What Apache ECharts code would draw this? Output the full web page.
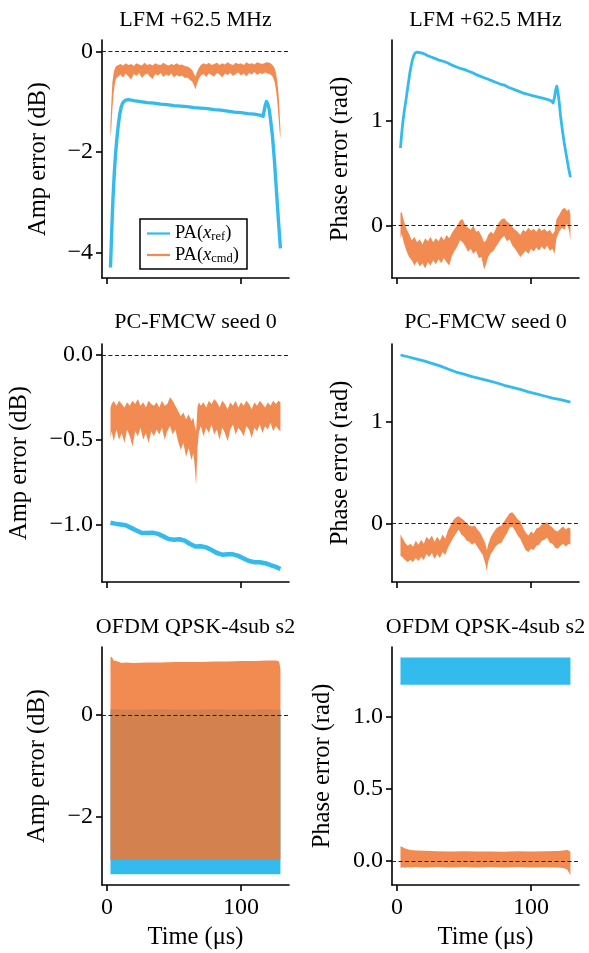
<!DOCTYPE html>
<html><head><meta charset="utf-8">
<script src="https://cdn.jsdelivr.net/npm/echarts@6/dist/echarts.min.js"></script>
<style>html,body{margin:0;padding:0;background:#fff}#c{width:589px;height:953px}</style>
</head><body><div id="c"></div>
<script>
// ---------------- DATA ----------------
const panelTitles = ['LFM +62.5 MHz','LFM +62.5 MHz','PC-FMCW seed 0','PC-FMCW seed 0','OFDM QPSK-4sub s2','OFDM QPSK-4sub s2'];
const seriesNames = ['PA(x_ref)','PA(x_cmd)'];
const xTicks = [0, 100];

// LFM amplitude, reference (blue line)
const lfmAmpRefT = [2.6,3.5,4.5,5.5,6.5,7.5,8.5,9.5,10.5,11.5,12.5,14,16,20,25,30,35,40,45,50,55,60,65,70,75,80,85,90,95,100,105,110,114,116.5,117,118,119,120,121,122,123.5,125,126.5,128,129.4];
const lfmAmpRefY = [-4.3,-3.6,-2.9,-2.4,-2.0,-1.7,-1.45,-1.25,-1.12,-1.04,-1.0,-0.97,-0.96,-0.98,-1.0,-1.02,-1.03,-1.05,-1.06,-1.08,-1.09,-1.1,-1.12,-1.13,-1.14,-1.16,-1.17,-1.19,-1.21,-1.22,-1.24,-1.25,-1.27,-1.29,-1.22,-1.08,-1.0,-1.05,-1.15,-1.35,-1.7,-2.2,-2.8,-3.4,-3.92];
// LFM amplitude, command (orange, dense noisy trace: upper / lower envelope)
const lfmAmpCmdT = [2.6,3.2,4,5,6,7,8.5,10,12,14,16,18,20,22,24,26,28,30,32,34,36,38,40,42,44,46,48,50,52,54,56,58,60,62,63.5,65,66,67,68.5,70,72,74,76,78,80,82,84,86,88,90,92,94,96,98,100,102,104,106,108,110,112,114,116,118,120,122,123.5,125,126,127,128,128.8,129.4];
const lfmAmpCmdHi = [-1.45,-1.05,-0.62,-0.42,-0.33,-0.29,-0.27,-0.25,-0.28,-0.24,-0.27,-0.25,-0.29,-0.24,-0.26,-0.28,-0.23,-0.27,-0.25,-0.28,-0.24,-0.26,-0.27,-0.23,-0.26,-0.28,-0.25,-0.27,-0.24,-0.27,-0.26,-0.29,-0.3,-0.33,-0.37,-0.45,-0.5,-0.42,-0.33,-0.27,-0.24,-0.26,-0.23,-0.27,-0.25,-0.23,-0.27,-0.24,-0.26,-0.22,-0.25,-0.27,-0.23,-0.25,-0.24,-0.27,-0.22,-0.25,-0.24,-0.26,-0.22,-0.24,-0.25,-0.23,-0.22,-0.24,-0.27,-0.33,-0.42,-0.58,-0.85,-1.2,-1.55];
const lfmAmpCmdLo = [-1.7,-1.55,-1.15,-0.82,-0.62,-0.53,-0.5,-0.46,-0.52,-0.44,-0.5,-0.56,-0.45,-0.49,-0.43,-0.53,-0.47,-0.44,-0.5,-0.55,-0.45,-0.48,-0.43,-0.51,-0.46,-0.49,-0.44,-0.52,-0.47,-0.5,-0.48,-0.53,-0.52,-0.57,-0.6,-0.68,-0.76,-0.66,-0.55,-0.48,-0.45,-0.51,-0.44,-0.47,-0.5,-0.43,-0.46,-0.52,-0.44,-0.47,-0.43,-0.49,-0.45,-0.42,-0.48,-0.44,-0.5,-0.43,-0.46,-0.41,-0.47,-0.43,-0.45,-0.42,-0.44,-0.46,-0.5,-0.6,-0.75,-0.98,-1.3,-1.6,-1.75];

// LFM phase, reference
const lfmPhRefT = [2.6,3.5,4.5,5.5,6.5,7.5,8.5,9.5,10.5,11.5,12.5,13.5,15,17,20,23,26,29,32,35,38,41,44,47,50,53,56,59,62,65,68,71,74,77,80,83,86,89,92,95,98,101,104,107,110,113,115,116.5,117.5,118.5,119.2,120,121,122,123.5,125,126.5,128,129.4];
const lfmPhRefY = [0.74,0.88,1.0,1.1,1.18,1.27,1.36,1.45,1.52,1.58,1.62,1.645,1.655,1.65,1.64,1.62,1.605,1.59,1.575,1.565,1.55,1.53,1.515,1.5,1.49,1.475,1.46,1.44,1.425,1.41,1.395,1.38,1.365,1.35,1.34,1.32,1.305,1.29,1.275,1.26,1.25,1.24,1.23,1.22,1.21,1.2,1.19,1.17,1.22,1.3,1.33,1.28,1.18,1.05,0.9,0.77,0.66,0.55,0.46];
// LFM phase, command
const lfmPhCmdT = [2.6,3.5,5,7,9,11,13,15,17,19,21,23,25,27,29,31,33,35,37,39,41,43,45,47,49,51,53,55,57,59,61,63,65,66.5,68,70,72,74,76,78,80,82,84,86,88,90,92,94,96,98,100,102,104,106,108,110,112,114,116,117.5,119,121,123,125,127,128.5,129.4];
const lfmPhCmdHi = [0.12,0.13,0.05,-0.03,-0.08,-0.14,-0.11,-0.16,-0.13,-0.18,-0.12,-0.15,-0.11,-0.16,-0.12,-0.15,-0.1,-0.14,-0.09,-0.12,-0.07,-0.03,0.0,0.05,0.06,0.0,-0.02,-0.04,0.0,-0.06,-0.05,-0.1,-0.16,-0.14,-0.09,-0.06,-0.08,-0.02,0.03,0.06,0.07,0.04,0.02,-0.01,-0.04,-0.06,-0.09,-0.04,-0.06,-0.02,-0.05,-0.03,-0.06,-0.02,-0.05,-0.03,-0.06,-0.04,-0.08,-0.06,0.06,0.1,0.15,0.17,0.14,0.16,0.1];
const lfmPhCmdLo = [-0.12,-0.08,-0.16,-0.24,-0.3,-0.33,-0.38,-0.34,-0.39,-0.36,-0.41,-0.35,-0.38,-0.33,-0.37,-0.32,-0.36,-0.31,-0.35,-0.38,-0.29,-0.24,-0.2,-0.14,-0.16,-0.2,-0.25,-0.22,-0.27,-0.24,-0.31,-0.3,-0.42,-0.37,-0.3,-0.26,-0.24,-0.2,-0.16,-0.12,-0.1,-0.15,-0.13,-0.19,-0.22,-0.26,-0.3,-0.27,-0.24,-0.27,-0.22,-0.25,-0.21,-0.24,-0.2,-0.23,-0.19,-0.24,-0.22,-0.27,-0.12,-0.06,-0.02,-0.04,0.02,-0.06,-0.14];

// PC-FMCW amplitude, reference
const pcAmpRefT = [2.6,6,10,14,18,22,26,30,34,38,42,46,50,54,58,62,66,70,74,78,82,86,90,94,98,102,106,110,114,118,122,126,129.4];
const pcAmpRefY = [-0.99,-0.995,-1.0,-1.005,-1.02,-1.035,-1.05,-1.05,-1.048,-1.055,-1.07,-1.085,-1.09,-1.087,-1.095,-1.115,-1.13,-1.128,-1.135,-1.15,-1.168,-1.178,-1.176,-1.176,-1.185,-1.2,-1.215,-1.222,-1.223,-1.228,-1.24,-1.25,-1.262];
// PC-FMCW amplitude, command
const pcAmpCmdT = [2.6,3.5,5,7,9,11,13,15,17,19,21,23,25,27,29,31,33,35,37,39,41,43,45,47,49,51,53,55,57,59,61,63,64.5,65.5,66.5,67.5,68.5,70,72,74,76,78,80,82,84,86,88,90,92,94,96,98,100,102,104,106,108,110,112,114,116,118,120,122,124,126,128,129.4];
const pcAmpCmdHi = [-0.31,-0.29,-0.27,-0.3,-0.27,-0.29,-0.31,-0.28,-0.3,-0.27,-0.29,-0.26,-0.3,-0.28,-0.31,-0.27,-0.29,-0.3,-0.28,-0.31,-0.27,-0.3,-0.29,-0.25,-0.27,-0.3,-0.33,-0.36,-0.34,-0.38,-0.35,-0.39,-0.37,-0.42,-0.45,-0.31,-0.28,-0.3,-0.28,-0.31,-0.27,-0.29,-0.26,-0.28,-0.31,-0.27,-0.29,-0.32,-0.28,-0.3,-0.27,-0.31,-0.28,-0.3,-0.27,-0.29,-0.32,-0.28,-0.3,-0.27,-0.29,-0.31,-0.28,-0.3,-0.27,-0.29,-0.27,-0.28];
const pcAmpCmdLo = [-0.49,-0.45,-0.51,-0.44,-0.5,-0.46,-0.52,-0.44,-0.48,-0.54,-0.45,-0.48,-0.43,-0.5,-0.46,-0.52,-0.45,-0.48,-0.44,-0.47,-0.43,-0.5,-0.45,-0.42,-0.47,-0.44,-0.51,-0.56,-0.52,-0.6,-0.55,-0.62,-0.58,-0.66,-0.77,-0.55,-0.46,-0.42,-0.48,-0.43,-0.46,-0.41,-0.47,-0.44,-0.5,-0.43,-0.46,-0.51,-0.44,-0.41,-0.47,-0.43,-0.45,-0.48,-0.42,-0.44,-0.49,-0.43,-0.45,-0.41,-0.46,-0.42,-0.44,-0.4,-0.45,-0.42,-0.44,-0.45];

// PC-FMCW phase, reference
const pcPhRefT = [2.6,8,14,20,26,32,38,44,50,56,62,68,74,80,86,92,98,104,110,116,122,129.4];
const pcPhRefY = [1.652,1.635,1.615,1.594,1.57,1.545,1.515,1.485,1.465,1.44,1.42,1.4,1.38,1.355,1.335,1.315,1.29,1.27,1.25,1.23,1.215,1.19];
// PC-FMCW phase, command
const pcPhCmdT = [2.6,4,6,8,10,12,14,16,18,20,22,24,26,28,30,32,34,36,38,40,42,44,46,48,50,52,54,56,58,60,62,64,66,67,68,70,72,74,76,78,80,82,84,86,88,90,92,94,96,98,100,102,104,106,108,110,112,114,116,118,120,122,124,126,128,129.4];
const pcPhCmdHi = [-0.11,-0.14,-0.19,-0.22,-0.2,-0.23,-0.17,-0.21,-0.16,-0.2,-0.13,-0.16,-0.12,-0.18,-0.13,-0.17,-0.11,-0.15,-0.07,-0.02,0.03,0.06,0.07,0.05,0.03,0.0,-0.02,-0.03,-0.02,-0.06,-0.09,-0.14,-0.2,-0.26,-0.21,-0.13,-0.09,-0.05,-0.03,-0.02,0.02,0.06,0.1,0.11,0.08,0.04,0.02,-0.04,-0.09,-0.12,-0.08,-0.1,-0.05,-0.04,-0.01,0.0,0.01,-0.02,-0.04,-0.07,-0.08,-0.05,-0.03,-0.06,-0.04,-0.05];
const pcPhCmdLo = [-0.32,-0.33,-0.36,-0.38,-0.36,-0.38,-0.34,-0.37,-0.33,-0.36,-0.3,-0.33,-0.29,-0.35,-0.3,-0.34,-0.28,-0.31,-0.24,-0.19,-0.14,-0.1,-0.06,-0.11,-0.13,-0.17,-0.18,-0.21,-0.19,-0.23,-0.27,-0.31,-0.4,-0.47,-0.38,-0.3,-0.26,-0.22,-0.2,-0.19,-0.14,-0.1,-0.04,-0.03,-0.07,-0.12,-0.15,-0.21,-0.26,-0.28,-0.25,-0.26,-0.22,-0.21,-0.17,-0.16,-0.14,-0.19,-0.2,-0.24,-0.25,-0.22,-0.2,-0.23,-0.2,-0.21];

// OFDM amplitude (both traces oscillate fast -> envelopes)
const ofAmpRefT = [2.6,20,40,60,80,100,120,129.4];
const ofAmpRefHi = [0.11,0.1,0.11,0.1,0.11,0.1,0.11,0.1];
const ofAmpRefLo = [-3.13,-3.13,-3.13,-3.13,-3.13,-3.13,-3.13,-3.13];
const ofAmpCmdT = [2.6,3.5,5,7,9,11,14,20,30,40,50,60,70,80,90,100,110,120,126,128.5,129.4];
const ofAmpCmdHi = [1.12,1.14,1.07,1.06,1.04,1.02,1.03,1.02,1.03,1.03,1.04,1.04,1.04,1.05,1.05,1.06,1.06,1.07,1.07,1.05,0.9];
const ofAmpCmdLo = [-2.85,-2.85,-2.85,-2.85,-2.85,-2.85,-2.85,-2.85,-2.85,-2.85,-2.85,-2.85,-2.85,-2.85,-2.85,-2.85,-2.85,-2.85,-2.85,-2.85,-2.85];
// OFDM phase
const ofPhRefT = [2.6,20,40,60,80,100,120,129.4];
const ofPhRefHi = [1.41,1.41,1.41,1.41,1.41,1.41,1.41,1.41];
const ofPhRefLo = [1.22,1.22,1.22,1.22,1.22,1.22,1.22,1.22];
const ofPhCmdT = [2.6,4,6,8,10,14,20,30,40,50,60,70,80,90,100,110,120,124,127,128.5,129.4];
const ofPhCmdHi = [0.1,0.095,0.085,0.08,0.075,0.072,0.07,0.066,0.064,0.066,0.064,0.065,0.063,0.066,0.064,0.066,0.068,0.072,0.075,0.07,0.06];
const ofPhCmdLo = [-0.05,-0.045,-0.048,-0.043,-0.046,-0.044,-0.047,-0.044,-0.046,-0.043,-0.047,-0.044,-0.046,-0.043,-0.046,-0.045,-0.047,-0.05,-0.06,-0.085,-0.1];

// y tick values per panel
const yTicks = [[-4,-2,0],[0,1],[-1,-0.5,0],[0,1],[-2,0],[0,0.5,1]];
const yDecimals = [0,0,1,0,0,1];
const yNames = ['Amp error (dB)','Phase error (rad)','Amp error (dB)','Phase error (rad)','Amp error (dB)','Phase error (rad)'];

// ---------------- STYLE / LAYOUT ----------------
const FONT = "'Liberation Serif','Times New Roman','DejaVu Serif',serif";
const BLUE = '#33BBEE';
const ORANGE = 'rgba(238,119,51,0.85)';
const X_MIN = -3.73, X_MAX = 135.8;
const yRange = [[-4.51,0.225],[-0.5,1.77],[-1.339,0.064],[-0.575,1.76],[-3.34,1.333],[-0.168,1.482]];
const gridPos = [[102,40],[392,40],[102,344],[392,344],[102,647],[392,647]];
const GW = 187, GH = 238;
const nameGaps = [51,39,70,39,52,57];
const titleTops = [9,9,311,311,616,616];

const zeroLine = {silent:true, symbol:['none','none'], label:{show:false},
  lineStyle:{color:'#222', width:1, type:[4,2.5]}, data:[{yAxis:0}], z:10, animation:false};

function lineSeries(gi, xs, ys, w){
  return {type:'line', name:seriesNames[0], xAxisIndex:gi, yAxisIndex:gi,
    data:xs.map((x,i)=>[x,ys[i]]), showSymbol:false, symbol:'none',
    lineStyle:{color:BLUE, width:w, join:'round'}, itemStyle:{color:BLUE},
    z:2, silent:true, markLine:zeroLine};
}
function bandSeries(gi, name, xs, hi, lo, color, z, withZero){
  const s = {type:'custom', name:name, xAxisIndex:gi, yAxisIndex:gi, z:z, silent:true,
    data:xs.map((x,i)=>[x, lo[i], hi[i]]), encode:{x:0, y:[1,2]},
    itemStyle:{color:color},
    renderItem:function(params, api){
      if (params.dataIndexInside !== 0) return null;
      const n = params.dataInsideLength || xs.length;
      const top = [], bot = [];
      for (let j=0;j<n;j++){
        top.push(api.coord([api.value(0,j), api.value(2,j)]));
        bot.push(api.coord([api.value(0,j), api.value(1,j)]));
      }
      return {type:'polygon', shape:{points: top.concat(bot.reverse())}, style:{fill:color}};
    }};
  if (withZero) s.markLine = zeroLine;
  return s;
}

const grids = gridPos.map(p=>({left:p[0], top:p[1], width:GW, height:GH, outerBoundsMode:'none', containLabel:false}));
const xAxes = gridPos.map((p,i)=>{
  const bottom = i>=4;
  return {type:'value', gridIndex:i, min:X_MIN, max:X_MAX,
    axisLine:{show:true, onZero:false, lineStyle:{color:'#000', width:1.6}},
    axisTick:{show:true, length:6, lineStyle:{color:'#000', width:1.6}, customValues:xTicks},
    axisLabel:{show:bottom, customValues:xTicks, color:'#000', fontFamily:FONT, fontSize:24, margin:11},
    splitLine:{show:false},
    name: bottom ? 'Time (μs)' : '', nameLocation:'middle', nameGap:40,
    nameTextStyle:{color:'#000', fontFamily:FONT, fontSize:24.5}};
});
const yAxes = gridPos.map((p,i)=>({type:'value', gridIndex:i, min:yRange[i][0], max:yRange[i][1],
  axisLine:{show:true, onZero:false, lineStyle:{color:'#000', width:1.6}},
  axisTick:{show:true, length:6, lineStyle:{color:'#000', width:1.6}, customValues:yTicks[i]},
  axisLabel:{show:true, customValues:yTicks[i], color:'#000', fontFamily:FONT, fontSize:24, margin:9,
    formatter:function(v){ return Number(v).toFixed(yDecimals[i]).replace('-', '\u2212'); }},
  splitLine:{show:false},
  name:yNames[i], nameLocation:'middle', nameGap:nameGaps[i],
  nameTextStyle:{color:'#000', fontFamily:FONT, fontSize:24.5}}));

const titles = gridPos.map((p,i)=>({text:panelTitles[i], left:p[0]+GW/2, top:titleTops[i], textAlign:'center', padding:0,
  textStyle:{color:'#000', fontFamily:FONT, fontSize:22, fontWeight:'normal'}}));

const series = [
  lineSeries(0, lfmAmpRefT, lfmAmpRefY, 3.4),
  bandSeries(0, seriesNames[1], lfmAmpCmdT, lfmAmpCmdHi, lfmAmpCmdLo, ORANGE, 3, false),
  lineSeries(1, lfmPhRefT, lfmPhRefY, 2.8),
  bandSeries(1, seriesNames[1], lfmPhCmdT, lfmPhCmdHi, lfmPhCmdLo, ORANGE, 3, false),
  lineSeries(2, pcAmpRefT, pcAmpRefY, 4.5),
  bandSeries(2, seriesNames[1], pcAmpCmdT, pcAmpCmdHi, pcAmpCmdLo, ORANGE, 3, false),
  lineSeries(3, pcPhRefT, pcPhRefY, 2.8),
  bandSeries(3, seriesNames[1], pcPhCmdT, pcPhCmdHi, pcPhCmdLo, ORANGE, 3, false),
  bandSeries(4, seriesNames[0], ofAmpRefT, ofAmpRefHi, ofAmpRefLo, BLUE, 2, true),
  bandSeries(4, seriesNames[1], ofAmpCmdT, ofAmpCmdHi, ofAmpCmdLo, ORANGE, 3, false),
  bandSeries(5, seriesNames[0], ofPhRefT, ofPhRefHi, ofPhRefLo, BLUE, 2, true),
  bandSeries(5, seriesNames[1], ofPhCmdT, ofPhCmdHi, ofPhCmdLo, ORANGE, 3, false)
];

const chart = echarts.init(document.getElementById('c'), null, {renderer:'canvas'});
chart.setOption({
  animation:false,
  backgroundColor:'#fff',
  title:titles,
  grid:grids, xAxis:xAxes, yAxis:yAxes,
  legend:{
    data:[{name:seriesNames[0], itemStyle:{color:BLUE}}, {name:seriesNames[1], itemStyle:{color:'#EE7733', opacity:0.85}}],
    left:140, top:219, orient:'vertical', icon:'rect', itemWidth:23, itemHeight:2.2, itemGap:2,
    padding:[5,8,4,7], borderColor:'#000', borderWidth:1.5, borderRadius:0, backgroundColor:'#fff',
    selectedMode:false,
    formatter:function(n){ return n===seriesNames[0] ? '{a|PA(}{i|x}{s|ref}{a|)}' : '{a|PA(}{i|x}{s|cmd}{a|)}'; },
    textStyle:{color:'#000', fontFamily:FONT, fontSize:18.5,
      rich:{a:{fontFamily:FONT, fontSize:18.5, lineHeight:20, color:'#000'},
            i:{fontFamily:FONT, fontSize:18.5, fontStyle:'italic', lineHeight:20, color:'#000'},
            s:{fontFamily:FONT, fontSize:12.5, lineHeight:20, verticalAlign:'bottom', color:'#000'}}}
  },
  series:series
});
</script></body></html>
